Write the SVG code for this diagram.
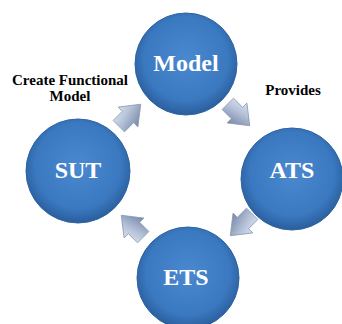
<svg xmlns="http://www.w3.org/2000/svg" width="342" height="324" viewBox="0 0 342 324">
<defs>
<radialGradient id="ball" cx="0.5" cy="0.45" r="0.55">
<stop offset="0" stop-color="#4a88d0"/>
<stop offset="0.75" stop-color="#3a78c0"/>
<stop offset="1" stop-color="#2a5e9c"/>
</radialGradient>
<linearGradient id="arr" x1="0" y1="0" x2="0.3" y2="1">
<stop offset="0" stop-color="#e4eaf3"/>
<stop offset="0.5" stop-color="#b4c1d8"/>
<stop offset="1" stop-color="#7c8cab"/>
</linearGradient>
<polygon id="blk" points="-13,-8 0,-8 0,-14 18,0 0,14 0,8 -13,8"/>
</defs>
<style>
.node circle{fill:url(#ball);stroke:#2f64a3;stroke-width:1}
.node text{font-family:"Liberation Serif",serif;font-weight:bold;font-size:24px;fill:#fff;text-anchor:middle}
.lbl{font-family:"Liberation Serif",serif;font-weight:bold;font-size:15px;fill:#000;text-anchor:middle}
.conn use{fill:url(#arr);stroke:#8a98b0;stroke-width:0.8}
</style>
<g id="connectors" class="conn">
<use href="#blk" transform="translate(128,117) rotate(-45)"/>
<use href="#blk" transform="translate(237,113) rotate(45)"/>
<use href="#blk" transform="translate(243,223) rotate(135)"/>
<use href="#blk" transform="translate(134,228) rotate(-135)"/>
</g>
<g id="model" class="node"><circle cx="186" cy="64" r="51"/><text x="186" y="71">Model</text></g>
<g id="sut" class="node"><circle cx="78" cy="171" r="52"/><text x="78" y="178">SUT</text></g>
<g id="ats" class="node"><circle cx="292" cy="179" r="51"/><text x="292" y="178">ATS</text></g>
<g id="ets" class="node"><circle cx="188" cy="278" r="51"/><text x="186" y="285">ETS</text></g>
<text class="lbl" x="70" y="85">Create Functional</text>
<text class="lbl" x="70" y="101">Model</text>
<text class="lbl" x="293" y="95">Provides</text>
</svg>
